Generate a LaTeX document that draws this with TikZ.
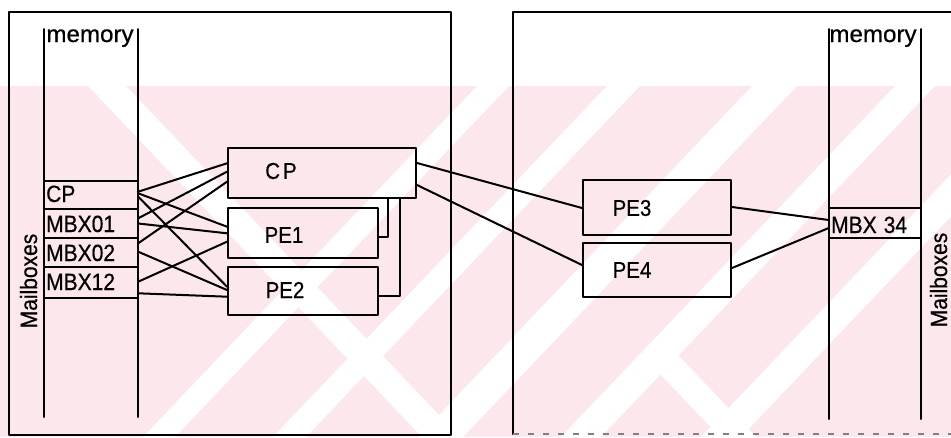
\documentclass[tikz,border=0pt]{standalone}
\usepackage{fontspec}
\setmainfont[FakeBold=0.6]{Liberation Sans}
\usetikzlibrary{calc}
\definecolor{wm}{RGB}{252,232,236}
\newcommand{\tall}[1]{\scalebox{1}[1.12]{#1}}
\newcommand{\wide}[1]{\scalebox{1.15}[1.12]{#1}}
\tikzset{
  ln/.style={line width=2pt, line join=round, line cap=round},
  pbox/.style={draw, ln, rectangle, inner sep=0pt},
  row/.style={rectangle, inner sep=0pt, minimum width=94pt},
  lbl/.style={font=\fontsize{21}{21}\selectfont, inner sep=0pt},
  btxt/.style={font=\fontsize{20.5}{20.5}\selectfont, inner sep=0pt},
  wstripe/.style={fill=white, draw=none}
}
\begin{document}
\begin{tikzpicture}[x=1pt,y=-1pt]
\useasboundingbox (0,0) rectangle (951,437);
% watermark
\fill[wm] (0,86) rectangle (951,437);
\begin{scope}
\clip (0,86) rectangle (951,437);
\foreach \x/\w in {477/32, 607/33, 752/45, 895/40, 1035/40}
  \fill[wstripe] (\x,86) -- ++(\w,0) -- ++(-334,351) -- ++(-\w,0) -- cycle;
\fill[wstripe] (88,86) -- ++(38,0) -- ++(334,351) -- ++(-38,0) -- cycle;
\end{scope}
\begin{scope}
\clip (0,345) rectangle (951,437);
\fill[wstripe] (640,353) -- (676,353) -- (760,441) -- (724,441) -- cycle;
\end{scope}

% outer boxes
\draw[ln] (9,12) rectangle (451,435);
\draw[ln] (960,12) -- (513,12) -- (513,434);
\draw[line width=1.2pt, gray, dash pattern=on 6pt off 9pt] (513,434) -- (951,434);

% left memory column
\draw[ln] (44,29) -- (44,417);
\draw[ln] (138,29) -- (138,417);
\node[lbl, anchor=base] (memL) at (90,42) {\wide{memory}};
\node[lbl, anchor=base, rotate=90] (mbL) at (37,281) {\tall{Mailboxes}};

\node[row, minimum height=28pt] (mCP) at (91,195) {};
\node[row, minimum height=29pt] (m01) at (91,223.5) {};
\node[row, minimum height=29pt] (m02) at (91,252.5) {};
\node[row, minimum height=31pt] (m12) at (91,282.5) {};
\foreach \r in {mCP,m01,m02,m12}
  \draw[ln] (\r.north west) -- (\r.north east);
\draw[ln] (m12.south west) -- (m12.south east);
\node[lbl, anchor=base west] at (46,202) {\tall{CP}};
\node[lbl, anchor=base west] at (46,232) {\tall{MBX01}};
\node[lbl, anchor=base west] at (46,261) {\tall{MBX02}};
\node[lbl, anchor=base west] at (46,290) {\tall{MBX12}};

% right memory column
\draw[ln] (829,29) -- (829,419);
\draw[ln] (921,29) -- (921,419);
\node[lbl, anchor=base] (memR) at (873,42) {\wide{memory}};
\node[lbl, anchor=base, rotate=90] (mbR) at (947,280) {\tall{Mailboxes}};
\node[row, minimum width=92pt, minimum height=30pt] (m34) at (875,223) {};
\draw[ln] (m34.north west) -- (m34.north east);
\draw[ln] (m34.south west) -- (m34.south east);
\node[lbl, anchor=base west] at (831,233) {\tall{MBX\kern7pt 34}};

% processor boxes
\node[pbox, minimum width=188pt, minimum height=50pt] (cp) at (322,173) {};
\node[pbox, minimum width=150pt, minimum height=50pt] (pe1) at (303,233) {};
\node[pbox, minimum width=150pt, minimum height=48pt] (pe2) at (303,291) {};
\node[pbox, minimum width=148pt, minimum height=55pt] (pe3) at (657,207) {};
\node[pbox, minimum width=148pt, minimum height=54pt] (pe4) at (657,270) {};
\node[btxt] at (281,171) {\tall{C\kern3pt P}};
\node[btxt] at (284,235) {\tall{PE1}};
\node[btxt] at (285,290) {\tall{PE2}};
\node[btxt] at (632,208) {\tall{PE3}};
\node[btxt] at (632,270) {\tall{PE4}};

% mailbox connectors
\draw[ln] ($(mCP.east)+(0,-3.3)$) -- ($(cp.west)+(0,-9.7)$);
\draw[ln] ($(mCP.east)+(0,-1.7)$) -- ($(pe1.west)+(0,-6.3)$);
\draw[ln] ($(mCP.east)+(0,1.7)$) -- ($(pe2.west)+(0,-4.3)$);
\draw[ln] ($(m01.east)+(0,-5.2)$) -- ($(cp.west)+(0,-1.3)$);
\draw[ln] ($(m01.east)+(0,0)$) -- ($(pe1.west)+(0,0.3)$);
\draw[ln] ($(m02.east)+(0,-9.2)$) -- ($(cp.west)+(0,8.7)$);
\draw[ln] ($(m02.east)+(0,-0.8)$) -- ($(pe2.west)+(0,-1)$);
\draw[ln] ($(m12.east)+(0,-0.8)$) -- ($(pe1.west)+(0,8.7)$);
\draw[ln] ($(m12.east)+(0,10.8)$) -- ($(pe2.west)+(0,5.7)$);

% feedback from CP to PE1 / PE2
\draw[ln] (cp.south -| 388,0) -- (388,237) -- ($(pe1.east)+(0,4)$);
\draw[ln] (cp.south -| 400,0) -- (400,296) -- ($(pe2.east)+(0,5)$);

% CP to PE3 / PE4
\draw[ln] ($(cp.east)+(0,-10)$) -- ($(pe3.west)+(0,1)$);
\draw[ln] ($(cp.east)+(0,12)$) -- ($(pe4.west)+(0,-5)$);

% PE3 / PE4 to MBX 34
\draw[ln] ($(pe3.east)+(0,0)$) -- ($(m34.west)+(0,-3)$);
\draw[ln] ($(pe4.east)+(0,-2)$) -- ($(m34.west)+(0,5)$);
\end{tikzpicture}
\end{document}
